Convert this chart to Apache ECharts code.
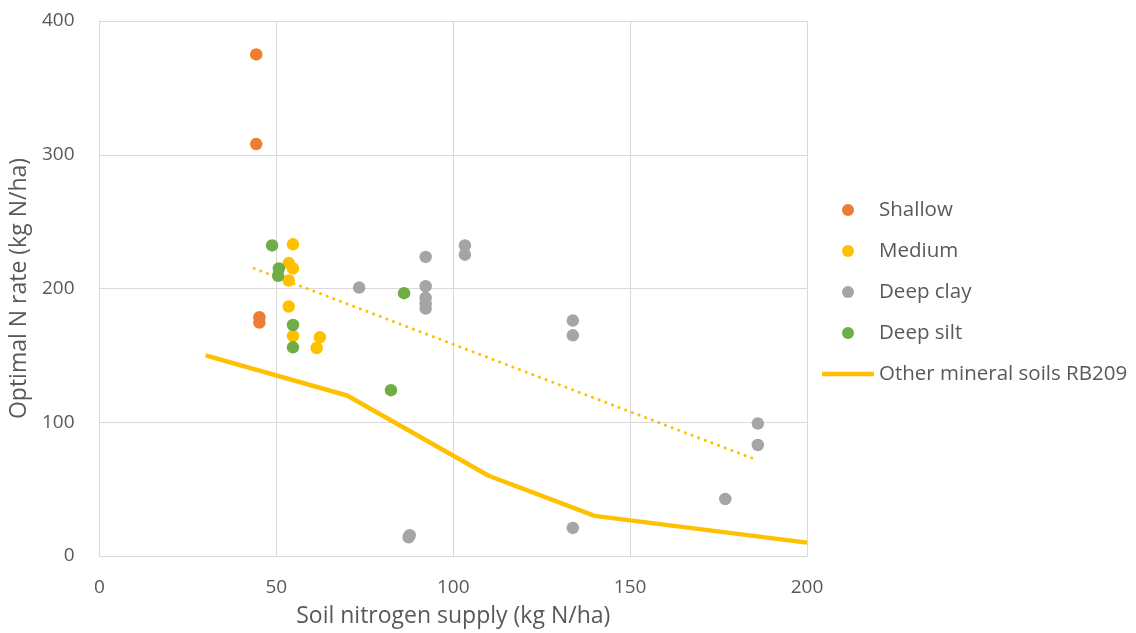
<!DOCTYPE html>
<html>
<head>
<meta charset="utf-8">
<script src="https://cdn.jsdelivr.net/npm/echarts@6/dist/echarts.min.js"></script>
<style>
html,body{margin:0;padding:0;background:#fff;}
#chart{width:1136px;height:633px;}
</style>
</head>
<body>
<div id="chart"></div>
<script>
// Data
var shallow = [[44.3, 375], [44.3, 308], [45.2, 178.5], [45.2, 174.5]];
var medium = [[54.7, 233], [53.5, 219], [54.7, 215], [53.5, 206], [53.5, 186.5], [54.7, 164.5], [62.3, 163.5], [61.4, 155.5]];
var deepClay = [[73.4, 200.7], [92.2, 223.6], [92.2, 201.7], [92.2, 193], [92.2, 188.5], [92.2, 185], [103.3, 232.2], [103.3, 225.3],
  [133.8, 176], [133.8, 165], [133.8, 21], [87.7, 15.5], [87.4, 14], [176.9, 42.6], [186.1, 99], [186.1, 83]];
var deepSilt = [[48.8, 232.2], [50.7, 215], [50.5, 209.5], [54.7, 172.7], [54.7, 156], [86.1, 196.5], [82.4, 124]];
var rb209 = [[30, 150], [70, 120], [110, 60], [140, 30], [200, 10]];
var trend = [[43.7, 215], [186.1, 71.5]];

var xTicks = [0, 50, 100, 150, 200];
var yTicks = [0, 100, 200, 300, 400];

var FONT = 'Open Sans';
var TXT = '#595959';

var chart = echarts.init(document.getElementById('chart'));
var sym = 12.5;
chart.setOption({
  animation: false,
  textStyle: { fontFamily: FONT },
  grid: { left: 98, right: 329, top: 21, bottom: 74 },
  xAxis: {
    type: 'value', min: xTicks[0], max: xTicks[xTicks.length - 1], interval: 50,
    name: 'Soil nitrogen supply (kg N/ha)', nameLocation: 'middle', nameGap: 49,
    nameTextStyle: { fontFamily: FONT, fontSize: 23, color: TXT },
    axisLine: { lineStyle: { color: '#d9d9d9', width: 1 } },
    axisTick: { show: false },
    axisLabel: { fontFamily: FONT, fontSize: 19, color: TXT, margin: 22 },
    splitLine: { lineStyle: { color: '#d9d9d9', width: 1 } }
  },
  yAxis: {
    type: 'value', min: yTicks[0], max: yTicks[yTicks.length - 1], interval: 100,
    name: 'Optimal N rate (kg N/ha)', nameLocation: 'middle', nameGap: 60, nameRotate: 90,
    nameTextStyle: { fontFamily: FONT, fontSize: 23, color: TXT },
    axisLine: { show: true, lineStyle: { color: '#d9d9d9', width: 1 } },
    axisTick: { show: false },
    axisLabel: { fontFamily: FONT, fontSize: 19, color: TXT, margin: 25 },
    splitLine: { lineStyle: { color: '#d9d9d9', width: 1 } }
  },
  legend: {
    orient: 'vertical', left: 822, top: 199, padding: 0,
    itemWidth: 52, itemHeight: 12, itemGap: 19,
    textStyle: { fontFamily: FONT, fontSize: 20.5, color: TXT, lineHeight: 22 },
    data: [
      { name: 'Shallow', icon: 'circle' },
      { name: 'Medium', icon: 'circle' },
      { name: 'Deep clay', icon: 'circle' },
      { name: 'Deep silt', icon: 'circle' },
      { name: 'Other mineral soils RB209', icon: 'path://M0,0 L52,0 L52,4.5 L0,4.5 Z' }
    ]
  },
  series: [
    { name: 'Trend', type: 'line', data: trend, symbol: 'none', z: 1,
      lineStyle: { color: '#FFC000', width: 3, type: [0.1, 7], cap: 'round' } },
    { name: 'Other mineral soils RB209', type: 'line', data: rb209, symbol: 'none', z: 2,
      itemStyle: { color: '#FFC000' },
      lineStyle: { color: '#FFC000', width: 4.5, join: 'round' } },
    { name: 'Shallow', type: 'scatter', data: shallow, symbolSize: sym, z: 3, itemStyle: { color: '#ED7D31', opacity: 1 } },
    { name: 'Medium', type: 'scatter', data: medium, symbolSize: sym, z: 3, itemStyle: { color: '#FFC000', opacity: 1 } },
    { name: 'Deep clay', type: 'scatter', data: deepClay, symbolSize: sym, z: 3, itemStyle: { color: '#A5A5A5', opacity: 1 } },
    { name: 'Deep silt', type: 'scatter', data: deepSilt, symbolSize: sym, z: 4, itemStyle: { color: '#70AD47', opacity: 1 } }
  ]
});
</script>
</body>
</html>
